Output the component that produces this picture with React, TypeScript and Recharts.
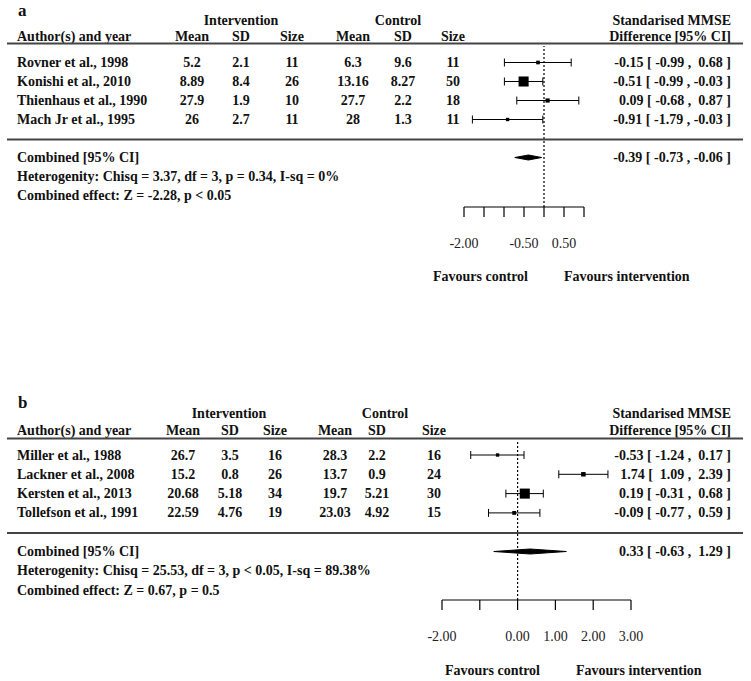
import React from 'react';
import { ComposedChart, Scatter, ErrorBar, XAxis, YAxis, ReferenceLine, Area } from 'recharts';

// ---------- Panel a data ----------
const studiesA = ['Rovner et al., 1998', 'Konishi et al., 2010', 'Thienhaus et al., 1990', 'Mach Jr et al., 1995'];
const intMeanA = ['5.2', '8.89', '27.9', '26'];
const intSdA = ['2.1', '8.4', '1.9', '2.7'];
const intNA = ['11', '26', '10', '11'];
const ctlMeanA = ['6.3', '13.16', '27.7', '28'];
const ctlSdA = ['9.6', '8.27', '2.2', '1.3'];
const ctlNA = ['11', '50', '18', '11'];
const estA = [-0.15, -0.51, 0.09, -0.91];
const loA = [-0.99, -0.99, -0.68, -1.79];
const hiA = [0.68, -0.03, 0.87, -0.03];
const combinedA = [-0.39, -0.73, -0.06]; // est, lo, hi
const hetA = 'Heterogenity: Chisq = 3.37, df = 3, p = 0.34, I-sq = 0%';
const effA = 'Combined effect: Z = -2.28, p < 0.05';
const ticksA = [-2, -1.5, -1, -0.5, 0, 0.5, 1];
const tickLabelsA = [-2, -0.5, 0.5];

// ---------- Panel b data ----------
const studiesB = ['Miller et al., 1988', 'Lackner et al., 2008', 'Kersten et al., 2013', 'Tollefson et al., 1991'];
const intMeanB = ['26.7', '15.2', '20.68', '22.59'];
const intSdB = ['3.5', '0.8', '5.18', '4.76'];
const intNB = ['16', '26', '34', '19'];
const ctlMeanB = ['28.3', '13.7', '19.7', '23.03'];
const ctlSdB = ['2.2', '0.9', '5.21', '4.92'];
const ctlNB = ['16', '24', '30', '15'];
const estB = [-0.53, 1.74, 0.19, -0.09];
const loB = [-1.24, 1.09, -0.31, -0.77];
const hiB = [0.17, 2.39, 0.68, 0.59];
const combinedB = [0.33, -0.63, 1.29];
const hetB = 'Heterogenity: Chisq = 25.53, df = 3, p < 0.05, I-sq = 89.38%';
const effB = 'Combined effect: Z = 0.67, p = 0.5';
const ticksB = [-2, -1, 0, 1, 2, 3];
const tickLabelsB = [-2, 0, 1, 2, 3];

// ---------- layout (pixel positions, styles) ----------
const W = 751;
const FONT = '"Liberation Serif", "Times New Roman", serif';
const SQUARE_PX = 6.7;
const DIAMOND_HALF_PX = 2.5;

const layoutA = {
  top: 0, height: 300, label: 'a', labelBase: 15.5,
  groupY: 20, headY: 36, rule1: 43.5, firstRow: 62.5, step: 19, rule2: 139.5,
  plotTop: 46, axisY: 207, plotLeft: 464, plotRight: 584,
  favY: 276, favCtlX: 433, favIntX: 564,
  cols: [192, 241, 292, 353, 403, 453], intX: 241, ctlX: 398,
};
const layoutB = {
  top: 380, height: 301, label: 'b', labelBase: 408,
  groupY: 413, headY: 430, rule1: 438.5, firstRow: 455, step: 19.3, rule2: 533,
  plotTop: 441, axisY: 600, plotLeft: 442, plotRight: 631,
  favY: 670, favCtlX: 445, favIntX: 576,
  cols: [183, 230, 275, 335, 377, 434], intX: 229, ctlX: 385,
};

const fmt = (v: number) => (v < 0 ? v.toFixed(2) : '\u00a0' + v.toFixed(2));
const ciText = (e: number, l: number, h: number) => `${fmt(e)} [ ${fmt(l)} , ${fmt(h)} ]`;

type Panel = {
  studies: string[]; cols: string[][]; est: number[]; lo: number[]; hi: number[];
  combined: number[]; het: string; eff: string; ticks: number[]; tickLabels: number[]; L: any;
};

const panels: Panel[] = [
  {
    studies: studiesA, cols: [intMeanA, intSdA, intNA, ctlMeanA, ctlSdA, ctlNA],
    est: estA, lo: loA, hi: hiA, combined: combinedA, het: hetA, eff: effA,
    ticks: ticksA, tickLabels: tickLabelsA, L: layoutA,
  },
  {
    studies: studiesB, cols: [intMeanB, intSdB, intNB, ctlMeanB, ctlSdB, ctlNB],
    est: estB, lo: loB, hi: hiB, combined: combinedB, het: hetB, eff: effB,
    ticks: ticksB, tickLabels: tickLabelsB, L: layoutB,
  },
];

const squareShape = (props: any) => {
  const { cx, cy, payload } = props;
  const s = SQUARE_PX * payload.ps;
  return <rect x={cx - s / 2} y={cy - s / 2} width={s} height={s} fill="#000" />;
};

function ForestChart({ p }: { p: Panel }) {
  const L = p.L;
  const n = p.studies.length;
  const combIdx = n + 1;
  const d0 = -(L.firstRow - L.plotTop) / L.step;
  const d1 = d0 + (L.axisY - L.plotTop) / L.step;
  const weights = p.lo.map((l, i) => {
    const se = (p.hi[i] - l) / 3.92;
    return 1 / (se * se);
  });
  const wmin = Math.min(...weights);
  const wmax = Math.max(...weights);
  const points = p.est.map((e, i) => ({
    x: e, y: i, err: [e - p.lo[i], p.hi[i] - e],
    ps: 0.5 + (weights[i] - wmin) / (wmax - wmin),
  }));
  const h = DIAMOND_HALF_PX / L.step;
  const [ce, cl, ch] = p.combined;
  const diamond = [
    { x: cl, d: [combIdx, combIdx] },
    { x: ce, d: [combIdx - h, combIdx + h] },
    { x: ch, d: [combIdx, combIdx] },
  ];
  const xAxisH = 60;
  const margin = {
    top: L.plotTop - L.top,
    left: L.plotLeft,
    right: W - L.plotRight,
    bottom: L.height - (L.axisY - L.top) - xAxisH,
  };
  const Tick = (props: any) => {
    const { x, payload } = props;
    if (!p.tickLabels.includes(payload.value)) return <g />;
    return (
      <text x={x} y={L.axisY - L.top + 36} textAnchor="middle" dominantBaseline="central"
        fontFamily={FONT} fontSize={14} fill="#222">
        {payload.value.toFixed(2)}
      </text>
    );
  };
  return (
    <div style={{ position: 'absolute', left: 0, top: L.top }}>
      <ComposedChart width={W} height={L.height} data={diamond} margin={margin}>
        <XAxis type="number" dataKey="x" domain={[p.ticks[0], p.ticks[p.ticks.length - 1]]}
          ticks={p.ticks} interval={0} allowDataOverflow height={xAxisH} tickSize={10}
          axisLine={{ stroke: '#000', strokeWidth: 1.2 }} tickLine={{ stroke: '#000', strokeWidth: 1.2 }}
          tick={<Tick />} />
        <YAxis type="number" dataKey="y" domain={[d0, d1]} reversed hide allowDataOverflow />
        <ReferenceLine x={0} stroke="#000" strokeWidth={1.2} strokeDasharray="2 2" />
        <Area type="linear" dataKey="d" stroke="#000" strokeWidth={1} fill="#000" fillOpacity={1}
          dot={false} activeDot={false} isAnimationActive={false} />
        <Scatter data={points} shape={squareShape} isAnimationActive={false}>
          <ErrorBar dataKey="err" direction="x" width={4} stroke="#000" strokeWidth={1} />
        </Scatter>
      </ComposedChart>
    </div>
  );
}

function TextLayer() {
  const txt = { fontFamily: FONT, fontSize: 14, fontWeight: 700, fill: '#111', dominantBaseline: 'central' as const };
  return (
    <svg width={W} height={681} style={{ position: 'absolute', left: 0, top: 0, pointerEvents: 'none' }}>
      {panels.map((p, k) => {
        const L = p.L;
        const rowY = (i: number) => L.firstRow + i * L.step;
        const n = p.studies.length;
        return (
          <g key={k}>
            <text x={18} y={L.labelBase} fontFamily={FONT} fontSize={17} fontWeight={700} fill="#111">{L.label}</text>
            <text x={L.intX} y={L.groupY} {...txt} textAnchor="middle">Intervention</text>
            <text x={L.ctlX} y={L.groupY} {...txt} textAnchor="middle">Control</text>
            <text x={731} y={L.groupY} {...txt} textAnchor="end">Standarised MMSE</text>
            <text x={17} y={L.headY} {...txt}>Author(s) and year</text>
            {['Mean', 'SD', 'Size', 'Mean', 'SD', 'Size'].map((h, j) => (
              <text key={j} x={L.cols[j]} y={L.headY} {...txt} textAnchor="middle">{h}</text>
            ))}
            <text x={731} y={L.headY} {...txt} textAnchor="end">Difference [95% CI]</text>
            <line x1={7} x2={743} y1={L.rule1} y2={L.rule1} stroke="#444" strokeWidth={2} />
            {p.studies.map((s, i) => (
              <g key={i}>
                <text x={17} y={rowY(i)} {...txt}>{s}</text>
                {p.cols.map((c, j) => (
                  <text key={j} x={L.cols[j]} y={rowY(i)} {...txt} textAnchor="middle">{c[i]}</text>
                ))}
                <text x={731} y={rowY(i)} {...txt} textAnchor="end" style={{ whiteSpace: 'pre' }}>
                  {ciText(p.est[i], p.lo[i], p.hi[i])}
                </text>
              </g>
            ))}
            <line x1={7} x2={743} y1={L.rule2} y2={L.rule2} stroke="#444" strokeWidth={2} />
            <text x={17} y={rowY(n + 1)} {...txt}>Combined [95% CI]</text>
            <text x={731} y={rowY(n + 1)} {...txt} textAnchor="end" style={{ whiteSpace: 'pre' }}>
              {ciText(p.combined[0], p.combined[1], p.combined[2])}
            </text>
            <text x={17} y={rowY(n + 2)} {...txt}>{p.het}</text>
            <text x={17} y={rowY(n + 3)} {...txt}>{p.eff}</text>
            <text x={L.favCtlX} y={L.favY} {...txt}>Favours control</text>
            <text x={L.favIntX} y={L.favY} {...txt}>Favours intervention</text>
          </g>
        );
      })}
    </svg>
  );
}

export default function App() {
  return (
    <div style={{ position: 'absolute', left: 0, top: 0, width: W, height: 681, background: '#fff' }}>
      {panels.map((p, k) => <ForestChart key={k} p={p} />)}
      <TextLayer />
    </div>
  );
}
